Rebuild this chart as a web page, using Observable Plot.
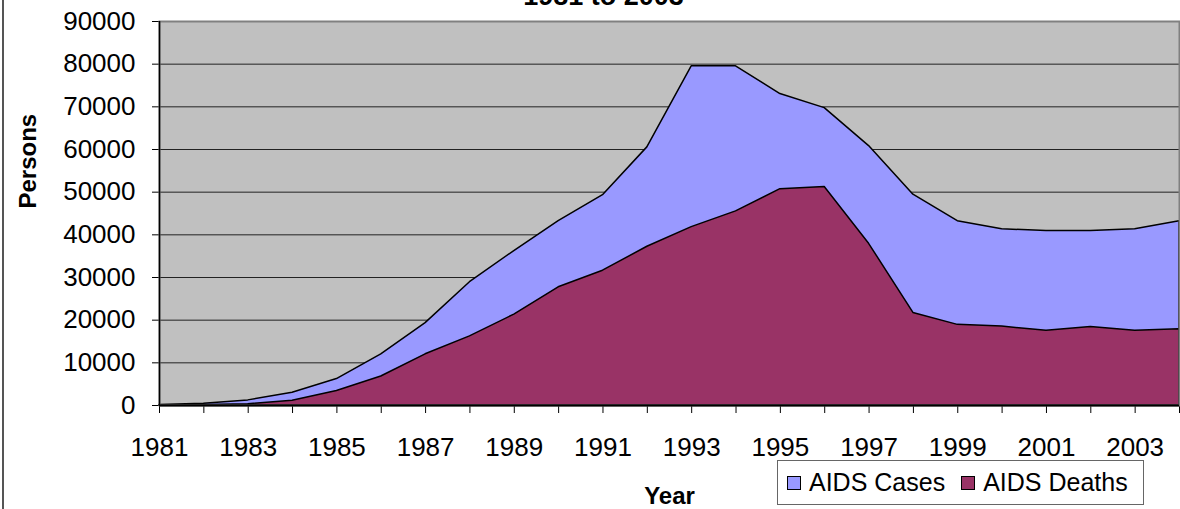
<!DOCTYPE html>
<html>
<head>
<meta charset="utf-8">
<script src="https://cdn.jsdelivr.net/npm/d3@7"></script>
<script src="https://cdn.jsdelivr.net/npm/@observablehq/plot@0.6"></script>
<style>
  html, body { margin: 0; padding: 0; background: #fff; }
  #wrap { position: relative; width: 1180px; height: 509px; overflow: hidden; font-family: "Liberation Sans", Arial, sans-serif; }
  #frameLeft { position: absolute; left: 2px; top: 0; width: 2px; height: 509px; background: #555; }
  #legend { position: absolute; left: 777px; top: 460px; width: 365px; height: 43px; border: 1px solid #666; background: #fff;
            display: flex; align-items: center; font-size: 25px; color: #000; box-sizing: content-box; }
  .sw { width: 12px; height: 12px; border: 1px solid #000; margin-right: 8px; }
  .item { display: flex; align-items: center; }
</style>
</head>
<body>
<div id="wrap"><div id="frameLeft"></div></div>
<script>
const years  = [1981,1982,1983,1984,1985,1986,1987,1988,1989,1990,1991,1992,1993,1994,1995,1996,1997,1998,1999,2000,2001,2002,2003,2004];
const cases  = [100,400,1200,3000,6200,12000,19300,28900,36200,43200,49300,60500,79500,79500,73000,69700,60800,49400,43200,41300,40900,40900,41300,43200];
const deaths = [0,100,300,1100,3400,6800,12000,16200,21300,27700,31600,37200,41800,45500,50700,51200,37900,21700,18900,18500,17500,18400,17500,17900];
const yTicks = [0,10000,20000,30000,40000,50000,60000,70000,80000,90000];
const xLabelYears = [1981,1983,1985,1987,1989,1991,1993,1995,1997,1999,2001,2003];
const seriesNames  = ["AIDS Cases", "AIDS Deaths"];
const seriesColors = ["#9999FF", "#993366"];
const titleText = "1981 to 2003";
const xTitle = "Year";
const yTitle = "Persons";

const data = years.map((year, i) => ({year, cases: cases[i], deaths: deaths[i]}));
const gridValues = yTicks.slice(1, -1);

const chart = Plot.plot({
  width: 1180,
  height: 509,
  marginLeft: 159,
  marginRight: 1,
  marginTop: 21,
  marginBottom: 104,
  style: {fontFamily: "Liberation Sans, Arial, sans-serif", fontSize: "26px", color: "#000", background: "transparent"},
  x: {type: "linear", domain: [years[0], years[years.length - 1]], ticks: years, tickSize: 8, tickFormat: () => "", label: null},
  y: {domain: [yTicks[0], yTicks[yTicks.length - 1]], ticks: yTicks, tickSize: 7, tickPadding: 17, tickFormat: d3.format("d"), label: null},
  marks: [
    Plot.frame({fill: "#C0C0C0", stroke: null}),
    Plot.ruleY(gridValues, {stroke: "#222", strokeWidth: 1}),
    Plot.areaY(data, {x: "year", y: "cases", fill: seriesColors[0], stroke: "#000", strokeWidth: 1.5}),
    Plot.areaY(data, {x: "year", y: "deaths", fill: seriesColors[1], stroke: "#000", strokeWidth: 1.5}),
    Plot.frame({stroke: "#808080", strokeWidth: 2}),
    Plot.ruleX([years[0]], {stroke: "#000", strokeWidth: 1.5}),
    Plot.ruleY([yTicks[0]], {stroke: "#000", strokeWidth: 2}),
    Plot.text(xLabelYears, {x: d => d, text: d => String(d), frameAnchor: "bottom", dy: 32, lineAnchor: "top", fontSize: 26, fill: "#000"}),
    Plot.text([xTitle], {text: d => d, frameAnchor: "bottom", dy: 98, lineAnchor: "bottom", fontSize: 24, fontWeight: "bold", fill: "#000"}),
    Plot.text([yTitle], {text: d => d, frameAnchor: "left", rotate: -90, dx: -131, dy: -5, lineAnchor: "middle", fontSize: 24, fontWeight: "bold", fill: "#000"}),
    Plot.text([titleText], {text: d => d, frameAnchor: "top", dx: -66, dy: -17, lineAnchor: "bottom", fontSize: 27, fontWeight: "bold", fill: "#000"})
  ]
});

const wrap = document.getElementById("wrap");
chart.style.position = "absolute";
chart.style.left = "0";
chart.style.top = "0";
wrap.insertBefore(chart, wrap.firstChild);

const legend = document.createElement("div");
legend.id = "legend";
seriesNames.forEach((name, i) => {
  const item = document.createElement("div");
  item.className = "item";
  item.style.marginLeft = i === 0 ? "9px" : "16px";
  const sw = document.createElement("div");
  sw.className = "sw";
  sw.style.background = seriesColors[i];
  const label = document.createElement("span");
  label.textContent = name;
  item.appendChild(sw);
  item.appendChild(label);
  legend.appendChild(item);
});
wrap.appendChild(legend);
</script>
</body>
</html>
